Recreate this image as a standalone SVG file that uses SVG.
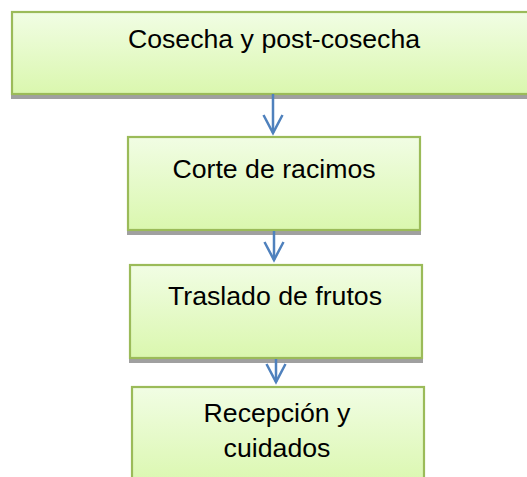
<svg xmlns="http://www.w3.org/2000/svg" width="527" height="477" viewBox="0 0 527 477">
<style>
.box{fill:url(#g);stroke:#9bbb59;stroke-width:2.2}
.sh{fill:#a0a0a0}
.t{font-family:"Liberation Sans",Arial,sans-serif;font-size:26.7px;fill:#000;text-anchor:middle}
.c{stroke:#4f81bd;stroke-width:2.5;fill:none}
</style>
<defs>
<linearGradient id="g" x1="0" y1="0" x2="0" y2="1">
<stop offset="0" stop-color="#f1fde4"/>
<stop offset="1" stop-color="#daf7ae"/>
</linearGradient>
<marker id="a" markerWidth="22" markerHeight="22" viewBox="0 0 22 22" refX="19" refY="11" orient="auto" markerUnits="userSpaceOnUse">
<path d="M1,1.5 L19,11 L1,20.5" fill="none" stroke="#4f81bd" stroke-width="2.5"/>
</marker>
</defs>
<g id="n1">
<rect class="sh" x="11" y="94" width="520" height="5"/>
<rect class="box" x="12" y="12" width="520" height="82"/>
<text class="t" x="274" y="48">Cosecha y post-cosecha</text>
</g>
<g id="n2">
<rect class="sh" x="127" y="230" width="294" height="5"/>
<rect class="box" x="128" y="137" width="292" height="93"/>
<text class="t" x="274" y="178">Corte de racimos</text>
</g>
<g id="n3">
<rect class="sh" x="129" y="358" width="294" height="5"/>
<rect class="box" x="130" y="265" width="292" height="93"/>
<text class="t" x="275" y="305">Traslado de frutos</text>
</g>
<g id="n4">
<rect class="box" x="132" y="387" width="292" height="100"/>
<text class="t" x="277" y="422">Recepción y</text>
<text class="t" x="277" y="457">cuidados</text>
</g>
<g id="connectors">
<line class="c" x1="273" y1="94" x2="273" y2="133" marker-end="url(#a)"/>
<line class="c" x1="274" y1="231" x2="274" y2="260" marker-end="url(#a)"/>
<line class="c" x1="276" y1="359" x2="276" y2="382" marker-end="url(#a)"/>
</g>
</svg>
